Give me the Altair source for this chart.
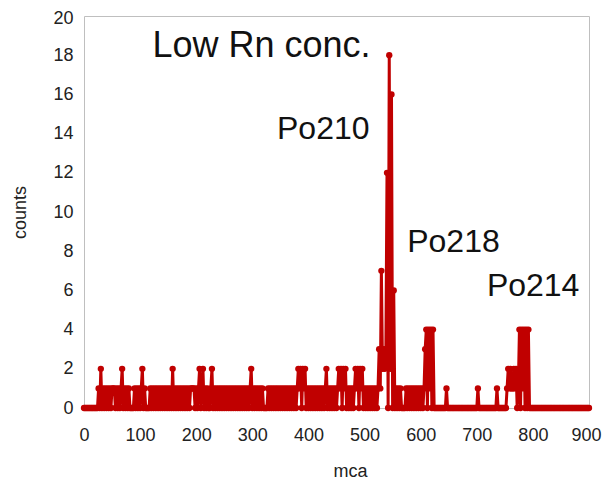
import altair as alt
import pandas as pd

# ---- data, counts per mca channel, one value every 2 channels ----
STEP = 2

low_start = 0
low_counts = (
    "0000000000000102010101010"
    "1110101012010101000010101"
    "0120100001010101010101010"
    "1010201010101010101011110"
    "1012012010100120101010101"
    "0101010101010101010101012"
    "0101010101000010101010101"
    "0101010101010101212021201"
    "0101010101010101201010101"
    "0121202120101010121202120"
    "1010101010101"
)

peak_start = 526
peak_counts = [3, 1, 7, 2, 3, 2, 3, 12, 0, 18, 2, 16, 0, 6]

high_start = 554
high_counts = (
    "0101010000"
    "10101010101010101"
    "34041404"
    "00000000000"
    "1"
    "000000000000000000000000000"
    "1"
    "0000000000000000"
    "1"
    "00000000"
    "12121121201"
    "4041404040"
    "00000000000000000000000000000000000000000000000000000"
)

labels = ["Low Rn conc.", "Po210", "Po218", "Po214"]
label_x = [122, 344, 576, 718]
label_y = [18.45, 14.25, 8.45, 6.25]
label_size = [36, 32, 32, 32]

x_ticks = [0, 100, 200, 300, 400, 500, 600, 700, 800, 900]
y_ticks = [0, 2, 4, 6, 8, 10, 12, 14, 16, 18, 20]

# ---- build table ----
rows = []
for i, c in enumerate(low_counts):
    rows.append({"mca": low_start + STEP * i, "counts": int(c)})
for i, v in enumerate(peak_counts):
    rows.append({"mca": peak_start + STEP * i, "counts": v})
for i, c in enumerate(high_counts):
    rows.append({"mca": high_start + STEP * i, "counts": int(c)})
df = pd.DataFrame(rows)

ann = pd.DataFrame({"label": labels, "x": label_x, "y": label_y, "size": label_size})

RED = "#C00000"
FONT = "Liberation Sans"

xscale = alt.Scale(domain=[0, 900], nice=False, zero=False)
yscale = alt.Scale(domain=[0, 20], nice=False)

xaxis = alt.Axis(title="mca", values=x_ticks, grid=False, ticks=False,
                 domain=False, labelPadding=18, titlePadding=18, titleX=266,
                 labelFlush=False, labelOverlap=False,
                 labelOffset=alt.condition("datum.value == 900", alt.value(-3), alt.value(0)),
                 labelFontSize=18, titleFontSize=18, labelFont=FONT,
                 titleFont=FONT, titleFontWeight="normal",
                 labelColor="#222222", titleColor="#222222")
yaxis = alt.Axis(title="counts", values=y_ticks, grid=False, ticks=False,
                 domain=False, labelPadding=11, titlePadding=23,
                 labelFlush=False, labelOverlap=False,
                 labelOffset=alt.condition("datum.value == 20", alt.value(2), alt.value(0)),
                 labelFontSize=18, titleFontSize=18, labelFont=FONT,
                 titleFont=FONT, titleFontWeight="normal",
                 labelColor="#222222", titleColor="#222222")

line = alt.Chart(df).mark_line(
    color=RED, strokeWidth=3,
    point=alt.OverlayMarkDef(filled=True, size=40, color=RED, opacity=1),
).encode(
    x=alt.X("mca:Q", scale=xscale, axis=xaxis),
    y=alt.Y("counts:Q", scale=yscale, axis=yaxis),
)

text = alt.Chart(ann).mark_text(align="left", baseline="middle", font=FONT,
                                color="#111111").encode(
    x=alt.X("x:Q", scale=xscale, axis=xaxis),
    y=alt.Y("y:Q", scale=yscale, axis=yaxis),
    text="label:N",
    size=alt.Size("size:Q", scale=None, legend=None),
)

chart = alt.layer(line, text).properties(
    width=505,
    height=392,
    autosize=alt.AutoSizeParams(type="none"),
    padding={"left": 76, "top": 8, "right": 13, "bottom": 76},
).configure_view(
    stroke="#BFBFBF", strokeWidth=1
)

chart.save("out.html", embed_options={"renderer": "svg", "actions": False})
